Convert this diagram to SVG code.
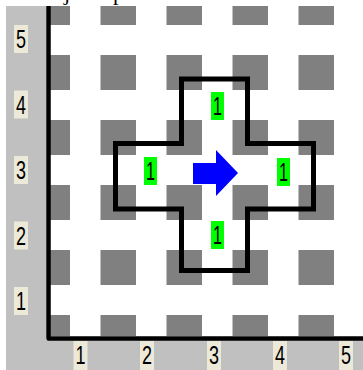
<svg xmlns="http://www.w3.org/2000/svg" width="363" height="370" viewBox="0 0 363 370">
  <defs>
    <style>
      .sq { fill: #808080; }
      .axis { fill: #ece9d8; }
      .cell { fill: #00ff00; }
      .lbl { font-family: "Liberation Sans", Arial, sans-serif; font-size: 26px; fill: #000; text-anchor: middle; }
      .frag { font-family: "Liberation Serif", "Times New Roman", serif; font-size: 22px; fill: #000; }
    </style>
    <clipPath id="field">
      <rect x="50" y="6" width="313" height="330"/>
    </clipPath>
  </defs>
  <rect x="0" y="0" width="363" height="370" fill="#ffffff"/>
  <text class="frag" x="64" y="0">j</text>
  <text class="frag" x="113" y="0">p</text>
  <!-- gray frame -->
  <rect x="6" y="6" width="40" height="364" fill="#c0c0c0"/>
  <rect x="6" y="340" width="357" height="30" fill="#c0c0c0"/>
  <!-- squares -->
  <g id="grid" clip-path="url(#field)">
    <g id="row0">
      <rect class="sq" x="34.5" y="-10" width="35.5" height="35"/>
      <rect class="sq" x="100.5" y="-10" width="35.5" height="35"/>
      <rect class="sq" x="166.5" y="-10" width="35.5" height="35"/>
      <rect class="sq" x="232.5" y="-10" width="35.5" height="35"/>
      <rect class="sq" x="298.5" y="-10" width="35.5" height="35"/>
    </g>
    <g id="row1">
      <rect class="sq" x="34.5" y="55" width="35.5" height="35"/>
      <rect class="sq" x="100.5" y="55" width="35.5" height="35"/>
      <rect class="sq" x="166.5" y="55" width="35.5" height="35"/>
      <rect class="sq" x="232.5" y="55" width="35.5" height="35"/>
      <rect class="sq" x="298.5" y="55" width="35.5" height="35"/>
    </g>
    <g id="row2">
      <rect class="sq" x="34.5" y="120" width="35.5" height="35"/>
      <rect class="sq" x="100.5" y="120" width="35.5" height="35"/>
      <rect class="sq" x="166.5" y="120" width="35.5" height="35"/>
      <rect class="sq" x="232.5" y="120" width="35.5" height="35"/>
      <rect class="sq" x="298.5" y="120" width="35.5" height="35"/>
    </g>
    <g id="row3">
      <rect class="sq" x="34.5" y="185" width="35.5" height="35"/>
      <rect class="sq" x="100.5" y="185" width="35.5" height="35"/>
      <rect class="sq" x="166.5" y="185" width="35.5" height="35"/>
      <rect class="sq" x="232.5" y="185" width="35.5" height="35"/>
      <rect class="sq" x="298.5" y="185" width="35.5" height="35"/>
    </g>
    <g id="row4">
      <rect class="sq" x="34.5" y="250" width="35.5" height="35"/>
      <rect class="sq" x="100.5" y="250" width="35.5" height="35"/>
      <rect class="sq" x="166.5" y="250" width="35.5" height="35"/>
      <rect class="sq" x="232.5" y="250" width="35.5" height="35"/>
      <rect class="sq" x="298.5" y="250" width="35.5" height="35"/>
    </g>
    <g id="row5">
      <rect class="sq" x="34.5" y="315" width="35.5" height="35"/>
      <rect class="sq" x="100.5" y="315" width="35.5" height="35"/>
      <rect class="sq" x="166.5" y="315" width="35.5" height="35"/>
      <rect class="sq" x="232.5" y="315" width="35.5" height="35"/>
      <rect class="sq" x="298.5" y="315" width="35.5" height="35"/>
    </g>
  </g>
  <!-- axes -->
  <path id="axes" d="M48.5,6 V338.5 H363" fill="none" stroke="#000" stroke-width="4.5" stroke-linejoin="round"/>
  <!-- cross region -->
  <path id="cross" d="M181.5,79 H247.5 V143.5 H313.5 V209 H247.5 V270.5 H181.5 V209 H115.5 V143.5 H181.5 Z" fill="none" stroke="#000" stroke-width="5" stroke-linejoin="miter"/>
  <!-- cell labels -->
  <g id="cell-top"><rect class="cell" x="211" y="92" width="13" height="28"/><text class="lbl" x="217.5" y="115" textLength="9" lengthAdjust="spacingAndGlyphs">1</text></g>
  <g id="cell-left"><rect class="cell" x="144" y="157" width="13" height="28"/><text class="lbl" x="150.5" y="180" textLength="9" lengthAdjust="spacingAndGlyphs">1</text></g>
  <g id="cell-right"><rect class="cell" x="277" y="158" width="13" height="28"/><text class="lbl" x="283.5" y="181" textLength="9" lengthAdjust="spacingAndGlyphs">1</text></g>
  <g id="cell-bottom"><rect class="cell" x="211" y="221" width="13" height="28"/><text class="lbl" x="217.5" y="244" textLength="9" lengthAdjust="spacingAndGlyphs">1</text></g>
  <!-- arrow -->
  <path id="arrow" d="M193,163 H216 V150 L238,173 L216,196 V184 H193 Z" fill="#0000ff"/>
  <!-- y axis labels -->
  <g id="y-labels">
    <g id="y5"><rect class="axis" x="14" y="25" width="14" height="28"/><text class="lbl" x="21" y="48" textLength="10" lengthAdjust="spacingAndGlyphs">5</text></g>
    <g id="y4"><rect class="axis" x="14" y="90.5" width="14" height="28"/><text class="lbl" x="21" y="113.5" textLength="10" lengthAdjust="spacingAndGlyphs">4</text></g>
    <g id="y3"><rect class="axis" x="14" y="156" width="14" height="28"/><text class="lbl" x="21" y="179" textLength="10" lengthAdjust="spacingAndGlyphs">3</text></g>
    <g id="y2"><rect class="axis" x="14" y="221.5" width="14" height="28"/><text class="lbl" x="21" y="244.5" textLength="10" lengthAdjust="spacingAndGlyphs">2</text></g>
    <g id="y1"><rect class="axis" x="14" y="287" width="14" height="28"/><text class="lbl" x="21" y="310" textLength="10" lengthAdjust="spacingAndGlyphs">1</text></g>
  </g>
  <!-- x axis labels -->
  <g id="x-labels">
    <g id="x1"><rect class="axis" x="73.5" y="341" width="14" height="29"/><text class="lbl" x="80.5" y="364" textLength="10" lengthAdjust="spacingAndGlyphs">1</text></g>
    <g id="x2"><rect class="axis" x="140" y="341" width="14" height="29"/><text class="lbl" x="147" y="364" textLength="10" lengthAdjust="spacingAndGlyphs">2</text></g>
    <g id="x3"><rect class="axis" x="207" y="341" width="14" height="29"/><text class="lbl" x="214" y="364" textLength="10" lengthAdjust="spacingAndGlyphs">3</text></g>
    <g id="x4"><rect class="axis" x="273" y="341" width="14" height="29"/><text class="lbl" x="280" y="364" textLength="10" lengthAdjust="spacingAndGlyphs">4</text></g>
    <g id="x5"><rect class="axis" x="339" y="341" width="14" height="29"/><text class="lbl" x="346" y="364" textLength="10" lengthAdjust="spacingAndGlyphs">5</text></g>
  </g>
</svg>
